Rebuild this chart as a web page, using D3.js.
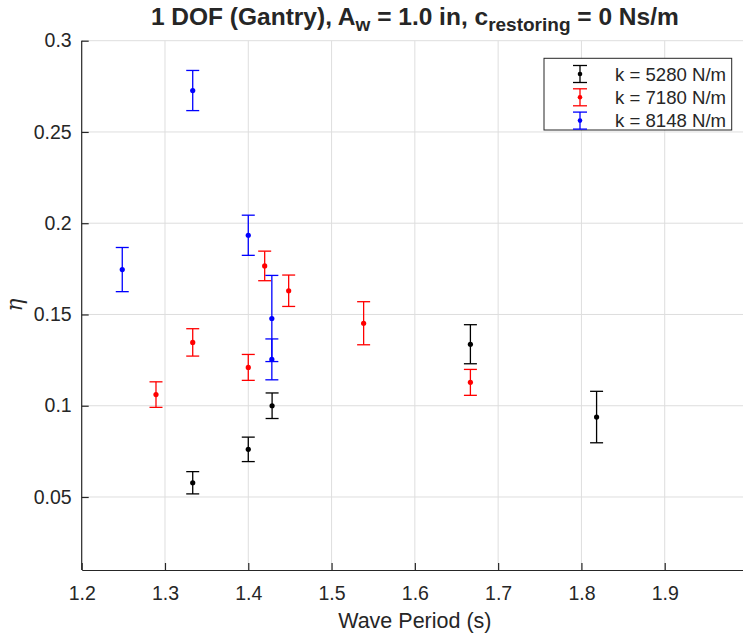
<!DOCTYPE html>
<html><head><meta charset="utf-8">
<script src="https://cdn.jsdelivr.net/npm/d3@7"></script>
<style>
body{margin:0;background:#fff}
svg{display:block}
text{font-family:"Liberation Sans",Arial,Helvetica,sans-serif;fill:#262626}
</style>
</head><body>
<svg id="chart" width="743" height="638"></svg>
<script>
// ---- data ----
const seriesNames = ["k = 5280 N/m", "k = 7180 N/m", "k = 8148 N/m"];
const seriesColors = ["#000000", "#ff0000", "#0000ff"];

const periods5280 = [1.3333, 1.4, 1.4286, 1.6667, 1.8182];
const eta5280     = [0.0578, 0.0761, 0.1000, 0.1337, 0.0938];
const err5280     = [0.0061, 0.0067, 0.0070, 0.0107, 0.0141];

const periods7180 = [1.2892, 1.3333, 1.4, 1.4197, 1.4485, 1.5385, 1.6667];
const eta7180     = [0.1061, 0.1347, 0.1210, 0.1766, 0.1630, 0.1452, 0.1128];
const err7180     = [0.0070, 0.0075, 0.0071, 0.0081, 0.0086, 0.0118, 0.0071];

const periods8148 = [1.2487, 1.3333, 1.4, 1.4283, 1.4283];
const eta8148     = [0.1746, 0.2727, 0.1934, 0.1478, 0.1254];
const err8148     = [0.0121, 0.0110, 0.0110, 0.0236, 0.0112];

const xTickValues = [1.2, 1.3, 1.4, 1.5, 1.6, 1.7, 1.8, 1.9, 2.0];
const yTickValues = [0.05, 0.1, 0.15, 0.2, 0.25, 0.3];
const xDomain = [1.2, 2.0];
const yDomain = [0.01, 0.3];

const series = [
  {name: seriesNames[0], color: seriesColors[0], x: periods5280, y: eta5280, e: err5280},
  {name: seriesNames[1], color: seriesColors[1], x: periods7180, y: eta7180, e: err7180},
  {name: seriesNames[2], color: seriesColors[2], x: periods8148, y: eta8148, e: err8148}
];

// ---- layout ----
const L = 81.7, T = 40.7, R = 748, B = 570;
const svg = d3.select("#chart");
const x = d3.scaleLinear().domain(xDomain).range([L, R]);
const y = d3.scaleLinear().domain(yDomain).range([B, T]);

// grid
const grid = svg.append("g").attr("stroke", "#dedede").attr("stroke-width", 1);
grid.selectAll("line.gx").data(xTickValues.slice(1)).join("line")
  .attr("x1", d => x(d)).attr("x2", d => x(d)).attr("y1", T).attr("y2", B);
grid.selectAll("line.gy").data(yTickValues).join("line")
  .attr("x1", L).attr("x2", R).attr("y1", d => y(d)).attr("y2", d => y(d));

// axes
const fmt = d => String(+d.toFixed(2));
const xAxis = d3.axisBottom(x).tickValues(xTickValues).tickFormat(fmt).tickSizeInner(-7).tickSizeOuter(0).tickPadding(16);
const yAxis = d3.axisLeft(y).tickValues(yTickValues).tickFormat(fmt).tickSizeInner(-7).tickSizeOuter(0).tickPadding(10);

const gx = svg.append("g").attr("transform", `translate(0,${B})`).call(xAxis);
const gy = svg.append("g").attr("transform", `translate(${L},0)`).call(yAxis);
[gx, gy].forEach(g => {
  g.select(".domain").attr("stroke", "#262626").attr("stroke-width", 1.2);
  g.selectAll(".tick line").attr("stroke", "#262626").attr("stroke-width", 1.2);
  g.selectAll(".tick text").attr("fill", "#262626").style("font-size", "19.5px")
    .style("font-family", '"Liberation Sans",Arial,sans-serif');
});
gx.selectAll(".tick text").attr("dy", "0.71em");
gy.select(".domain").attr("d", `M0,${T}V${B}`);

// error bars
const cap = 6.5;
series.forEach(s => {
  const g = svg.append("g").attr("stroke", s.color).attr("fill", s.color);
  const idx = d3.range(s.x.length);
  g.selectAll("line.v").data(idx).join("line")
    .attr("x1", i => x(s.x[i])).attr("x2", i => x(s.x[i]))
    .attr("y1", i => y(s.y[i] - s.e[i])).attr("y2", i => y(s.y[i] + s.e[i]))
    .attr("stroke-width", 1.3);
  g.selectAll("line.top").data(idx).join("line")
    .attr("x1", i => x(s.x[i]) - cap).attr("x2", i => x(s.x[i]) + cap)
    .attr("y1", i => y(s.y[i] + s.e[i])).attr("y2", i => y(s.y[i] + s.e[i]))
    .attr("stroke-width", 1.3);
  g.selectAll("line.bot").data(idx).join("line")
    .attr("x1", i => x(s.x[i]) - cap).attr("x2", i => x(s.x[i]) + cap)
    .attr("y1", i => y(s.y[i] - s.e[i])).attr("y2", i => y(s.y[i] - s.e[i]))
    .attr("stroke-width", 1.3);
  g.selectAll("circle").data(idx).join("circle")
    .attr("cx", i => x(s.x[i])).attr("cy", i => y(s.y[i])).attr("r", 2.6).attr("stroke", "none");
});

// legend
const lg = svg.append("g");
lg.append("rect").attr("x", 544).attr("y", 58.3).attr("width", 187.7).attr("height", 71.7)
  .attr("fill", "#fff").attr("stroke", "#262626").attr("stroke-width", 1);
series.forEach((s, i) => {
  const cy = 74 + i * 23.3, cx = 580;
  const g = lg.append("g").attr("stroke", s.color).attr("fill", s.color).attr("stroke-width", 1.3);
  g.append("line").attr("x1", cx).attr("x2", cx).attr("y1", cy - 8.5).attr("y2", cy + 8.5);
  g.append("line").attr("x1", cx - 7).attr("x2", cx + 7).attr("y1", cy - 8.5).attr("y2", cy - 8.5);
  g.append("line").attr("x1", cx - 7).attr("x2", cx + 7).attr("y1", cy + 8.5).attr("y2", cy + 8.5);
  g.append("circle").attr("cx", cx).attr("cy", cy).attr("r", 2.3).attr("stroke", "none");
  lg.append("text").attr("x", 615).attr("y", cy + 6.5).style("font-size", "18.6px").text(s.name);
});

// title
const title = svg.append("text").attr("x", (L + R) / 2).attr("y", 25).attr("text-anchor", "middle")
  .style("font-size", "24.5px").style("font-weight", "bold");
title.append("tspan").text("1 DOF (Gantry), A");
title.append("tspan").attr("dy", 6).style("font-size", "19px").text("w");
title.append("tspan").attr("dy", -6).text(" = 1.0 in, c");
title.append("tspan").attr("dy", 6).style("font-size", "19px").text("restoring");
title.append("tspan").attr("dy", -6).text(" = 0 Ns/m");

// axis labels
svg.append("text").attr("x", (L + R) / 2).attr("y", 628).attr("text-anchor", "middle")
  .style("font-size", "21.5px").text("Wave Period (s)");
svg.append("text").attr("transform", `translate(22,305) rotate(-90)`).attr("text-anchor", "middle")
  .style("font-size", "21.5px").style("font-style", "italic")
  .style("font-family", '"DejaVu Serif","Liberation Serif",serif').text("η");
</script>
</body></html>
